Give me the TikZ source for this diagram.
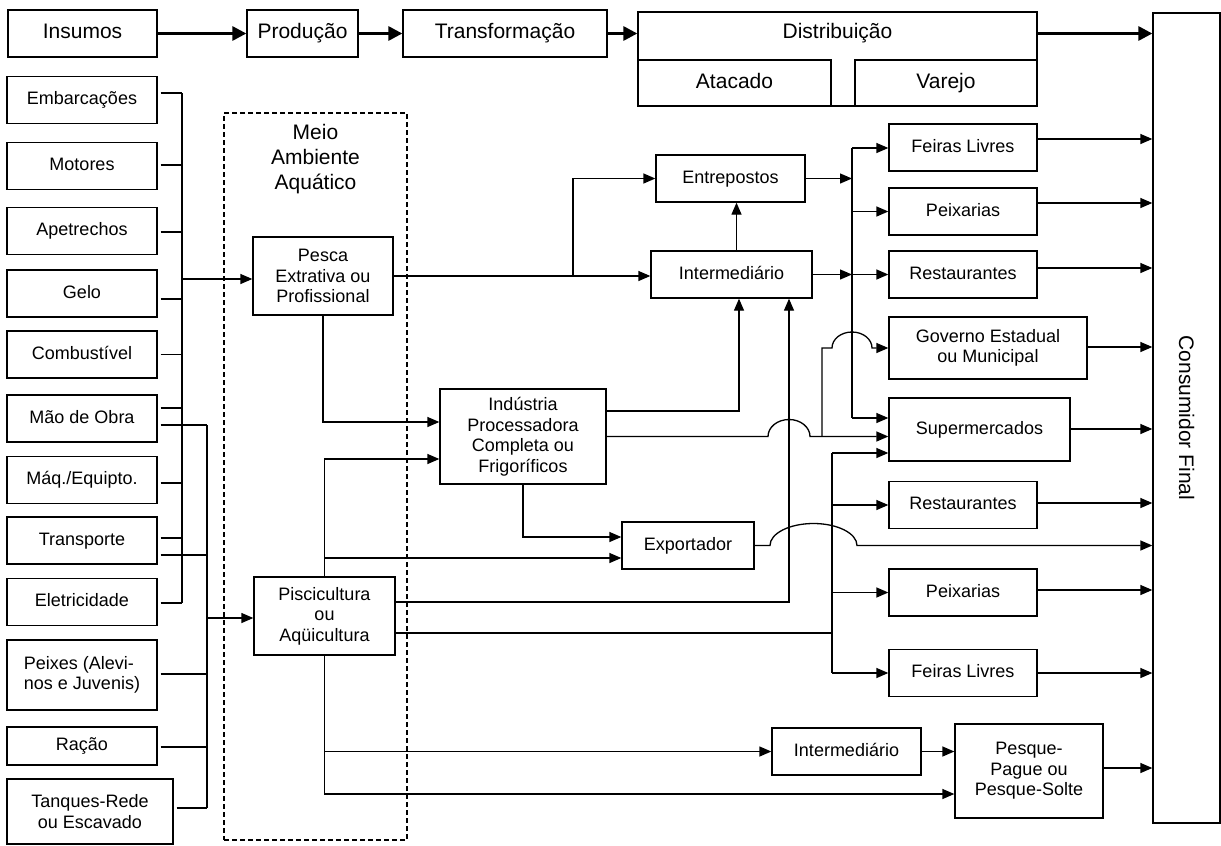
\documentclass[tikz,border=0pt]{standalone}
\usepackage{fontspec}
\setmainfont{Liberation Sans}
\usetikzlibrary{arrows.meta}

\begin{document}
\begin{tikzpicture}[x=1pt,y=-1pt,line width=1.3pt,
  box/.style = {draw, align=center, inner sep=0pt, font=\fontsize{18}{20.5}\selectfont},
  big/.style = {font=\fontsize{21}{25}\selectfont},
  one/.style = {text height=13pt, text depth=4pt},
  onebig/.style = {big, text height=15pt, text depth=5pt},
  inp/.style = {box, minimum width=150pt, minimum height=47pt},
  shop/.style = {box, one, minimum width=148pt, minimum height=47pt},
  arr/.style = {-{Triangle[length=12pt,width=10pt]}},
  fat/.style = {line width=3pt, -{Triangle[length=14pt,width=14pt]}}]
\useasboundingbox (0,0) rectangle (1221,846);

      % cadeia principal
      \node[box,onebig,minimum width=149pt,minimum height=47pt](ins) at (82.5,33.5){Insumos};
      \node[box,onebig,minimum width=111pt,minimum height=47pt](prod) at (302.5,33.5){Produção};
      \node[box,onebig,minimum width=204pt,minimum height=47pt](transf) at (505,33.5){Transformação};
      \node[box,minimum width=399pt,minimum height=94pt](dist) at (837.5,59){};
      \node[onebig,inner sep=0pt](distlbl) at (837.5,33.5){Distribuição};
      \node[box,onebig,minimum width=193pt,minimum height=46pt](atac) at (734.5,83){Atacado};
      \node[box,onebig,minimum width=182pt,minimum height=46pt](varejo) at (946,83){Varejo};
      \node[box,minimum width=67pt,minimum height=810pt](cons) at (1186.5,418){};
      \node[big,rotate=-90](conslbl) at (1186.5,418){Consumidor Final};

      % insumos
      \node[inp,one](emb) at (82,100){Embarcações};
      \node[inp,one](mot) at (82,166){Motores};
      \node[inp,one](apet) at (82,231){Apetrechos};
      \node[inp,one](gelo) at (82,293.5){Gelo};
      \node[inp,one](comb) at (82,354.5){Combustível};
      \node[inp,one](mao) at (82,418.5){Mão de Obra};
      \node[inp,one](maq) at (82,480){Máq./Equipto.};
      \node[inp,one](transp) at (82,540.5){Transporte};
      \node[inp,one](eletr) at (82,602){Eletricidade};
      \node[inp,minimum height=70pt,align=left](peixes) at (82,675){Peixes (Alevi-\\nos e Juvenis)};
      \node[inp,one,minimum height=38pt](racao) at (82,746){Ração};
      \node[box,minimum width=166pt,minimum height=65pt](tanq) at (90,811.5){Tanques-Rede\\ou Escavado};

      % meio ambiente
      \node[draw,dash pattern=on 5pt off 3pt,minimum width=183pt,minimum height=727pt](meio) at (315.5,476.5){};
      \node[big,align=center](meiolbl) at (315.5,159){Meio\\Ambiente\\Aquático};
      \node[box,minimum width=140pt,minimum height=78pt](pesca) at (323,276){Pesca\\Extrativa ou\\Profissional};
      \node[box,minimum width=141pt,minimum height=78pt](pisc) at (324.5,616){Piscicultura\\ou\\Aqüicultura};

      % transformacao e intermediarios
      \node[box,minimum width=166pt,minimum height=95pt](ind) at (523,436.5){Indústria\\Processadora\\Completa ou\\Frigoríficos};
      \node[box,one,minimum width=149pt,minimum height=47pt](entrep) at (730.5,178.5){Entrepostos};
      \node[box,one,minimum width=161pt,minimum height=47pt](interm) at (731.5,274.5){Intermediário};
      \node[box,one,minimum width=132pt,minimum height=47pt](export) at (688,545.5){Exportador};
      \node[box,one,minimum width=149pt,minimum height=47pt](intermb) at (846.5,751.5){Intermediário};
      \node[box,minimum width=148pt,minimum height=94pt](pesque) at (1029,771){Pesque-\\Pague ou\\Pesque-Solte};

      % varejo
      \node[shop](feirasa) at (963,147.5){Feiras Livres};
      \node[shop](peixa) at (963,211.5){Peixarias};
      \node[shop](resta) at (963,274.5){Restaurantes};
      \node[box,minimum width=198pt,minimum height=62pt](gov) at (988,348){Governo Estadual\\ou Municipal};
      \node[box,one,minimum width=181pt,minimum height=63pt](super) at (979.5,429.5){Supermercados};
      \node[shop](restb) at (963,505){Restaurantes};
      \node[shop](peixb) at (963,592.5){Peixarias};
      \node[shop](feirasb) at (963,673){Feiras Livres};

      \coordinate (busA) at (182,279);
      \coordinate (busB) at (207,618);
      \coordinate (splitE) at (573,276);
      \coordinate (busC) at (852,148);
      \coordinate (busD) at (832,673);
      \coordinate (hopA) at (768,436.5);
      \coordinate (riseG) at (822,436.5);
      \coordinate (hopG) at (832,348);
      \coordinate (hopX) at (770,545.5);

      \draw[fat] (ins) -- (prod);
      \draw[fat] (prod) -- (transf);
      \draw[fat] (transf.east) -- (transf.east -| dist.west);
      \draw[fat] (ins.east -| dist.east) -- (ins.east -| cons.west);

      % barramentos dos insumos
      \foreach \n/\dy in {emb/7,mot/1,apet/-1,gelo/-5.5,comb/0,mao/10.5,maq/-3,transp/2.5,eletr/-1}
        \draw ([xshift=3pt,yshift=\dy pt]\n.east) -- ([yshift=\dy pt]\n.east -| busA);
      \foreach \n/\dy in {mao/-6.5,transp/-14.5,peixes/1,racao/-1,tanq/3.5}
        \draw ([xshift=3pt,yshift=\dy pt]\n.east) -- ([yshift=\dy pt]\n.east -| busB);
      \draw ([yshift=7pt]emb.east -| busA) -- ([yshift=-1pt]eletr.east -| busA);
      \draw ([yshift=-6.5pt]mao.east -| busB) -- ([yshift=3.5pt]tanq.east -| busB);
      \draw[arr] (busA) -- (busA -| pesca.west);
      \draw[arr] (busB) -- (busB -| pisc.west);

      % pesca extrativa
      \draw[arr] (pesca.east) -- (pesca.east -| interm.west);
      \draw[arr] (splitE) |- (entrep.west);
      \draw[arr] (pesca.south) |- ([yshift=14.5pt]ind.west);
      \draw[arr] ([xshift=5pt]interm.north) -- ([xshift=5pt]interm.north |- entrep.south);
      \draw[arr] (entrep.east) -- (entrep.east -| busC);
      \draw[arr] (interm.east) -- (interm.east -| busC);

      % industria
      \draw[arr] ([yshift=25.5pt]ind.east) -| ([xshift=7.5pt]interm.south);
      \draw[arr] (ind.east) -- (hopA) arc[start angle=180,end angle=0,x radius=21pt,y radius=17pt] -- ([yshift=-7pt]super.west);
      \draw[arr] (riseG) |- (hopG) arc[start angle=180,end angle=0,x radius=20pt,y radius=16pt] -- (gov.west);
      \draw[arr] (ind.south) |- ([yshift=8.5pt]export.west);
      \draw[arr] (export.east) -- (hopX) arc[start angle=180,end angle=0,x radius=43.5pt,y radius=22pt] -- (export.east -| cons.west);

      % piscicultura
      \draw[arr] (pisc.north) |- ([yshift=-22.5pt]ind.west);
      \draw[arr] ([yshift=-12.5pt]export.west -| pisc.north) -- ([yshift=-12.5pt]export.west);
      \draw[arr] ([yshift=14pt]pisc.east) -| ([xshift=57.5pt]interm.south);
      \draw ([yshift=-17pt]pisc.east) -- ([yshift=-17pt]pisc.east -| busD);
      \draw[arr] (pisc.south) |- ([yshift=-23pt]pesque.west);
      \draw[arr] (pisc.south |- intermb.west) -- (intermb.west);
      \draw[arr] (intermb.east) -- (intermb.east -| pesque.west);

      % distribuicao ao varejo
      \draw (busC) -- ([yshift=11.5pt]super.west -| busC);
      \draw[arr] (busC) -- (busC -| feirasa.west);
      \draw[arr] (peixa.west -| busC) -- (peixa.west);
      \draw[arr] (resta.west -| busC) -- (resta.west);
      \draw[arr] ([yshift=11.5pt]super.west -| busC) -- ([yshift=11.5pt]super.west);
      \draw ([yshift=-23.5pt]super.west -| busD) -- (busD);
      \draw[arr] ([yshift=-23.5pt]super.west -| busD) -- ([yshift=-23.5pt]super.west);
      \draw[arr] (restb.west -| busD) -- (restb.west);
      \draw[arr] (peixb.west -| busD) -- (peixb.west);
      \draw[arr] (busD) -- (feirasb.west);

      % consumidor final
      \foreach \n/\dy in {feirasa/8.5,peixa/8.5,resta/6.5,gov/1,super/0.5,restb/2,peixb/2.5,feirasb/0,pesque/3}
        \draw[arr] ([yshift=\dy pt]\n.east) -- ([yshift=\dy pt]\n.east -| cons.west);

    \end{tikzpicture}
\end{document}
